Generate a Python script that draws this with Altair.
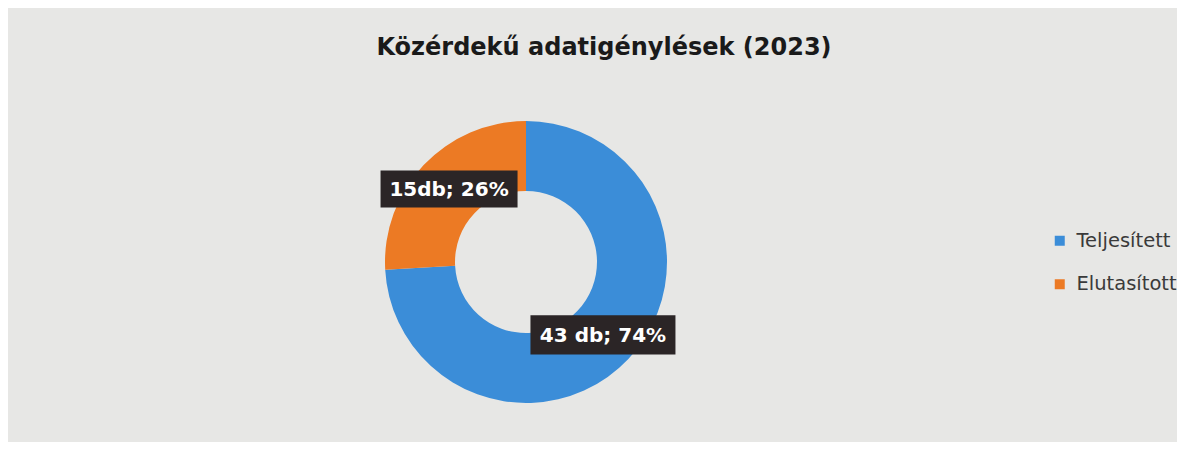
import altair as alt
import pandas as pd

categories = ["Teljesített", "Elutasított"]
counts = [43, 15]
labels = ["43 db; 74%", "15db; 26%"]
order = [0, 1]
colors = ["#3B8DD8", "#EC7A24"]

df = pd.DataFrame({"cat": categories, "count": counts, "label": labels, "idx": order})

W, H = 1036, 342
R_OUT, R_IN = 141, 71
R_LABEL = 106

base = alt.Chart(df)

color = alt.Color(
    "cat:N",
    scale=alt.Scale(domain=categories, range=colors),
    legend=alt.Legend(
        title=None, orient="none", legendX=1042, legendY=140,
        symbolType="square", symbolSize=100, symbolStrokeWidth=0,
        labelFontSize=19.5, labelFont="DejaVu Sans", labelColor="#3a3a3a",
        rowPadding=22.5, padding=0, labelOffset=7,
    ),
)

arc = base.mark_arc(innerRadius=R_IN, outerRadius=R_OUT).encode(
    theta=alt.Theta("count:Q", stack=True),
    color=color,
    order=alt.Order("idx:Q"),
)

lab = base.transform_joinaggregate(total="sum(count)").transform_window(
    cum="sum(count)", sort=[alt.SortField("idx")], frame=[None, 0]
).transform_calculate(
    mid="(datum.cum - datum.count/2)/datum.total*2*PI",
    lx=f"sin(datum.mid)*{R_LABEL}",
    ly=f"cos(datum.mid)*{R_LABEL}",
    sz="pow(8*length(datum.label)+65, 2)",
)

xenc = alt.X("lx:Q", scale=alt.Scale(domain=[-W / 2, W / 2]), axis=None)
yenc = alt.Y("ly:Q", scale=alt.Scale(domain=[-H / 2, H / 2]), axis=None)

box = lab.mark_point(
    shape="M-1,-0.27L1,-0.27L1,0.27L-1,0.27Z", filled=True,
    color="#2b2526", opacity=1, strokeWidth=0,
).encode(x=xenc, y=yenc, size=alt.Size("sz:Q", scale=None))

txt = lab.mark_text(
    font="DejaVu Sans", fontSize=20, fontWeight="bold", color="white",
    align="center", baseline="middle", dy=1,
).encode(x=xenc, y=yenc, text="label:N")

chart = alt.layer(arc, box, txt).properties(
    width=W, height=H,
    title=alt.TitleParams(
        "Közérdekű adatigénylések (2023)", font="DejaVu Sans", fontSize=24,
        fontWeight="bold", color="#1a1a1a", anchor="middle", dx=78, offset=31,
    ),
    background="#e7e7e5",
    padding={"left": 0, "top": 28, "right": 0, "bottom": 9},
).configure_view(stroke=None)

chart.save("out.html", embed_options={"renderer": "svg", "actions": False})
